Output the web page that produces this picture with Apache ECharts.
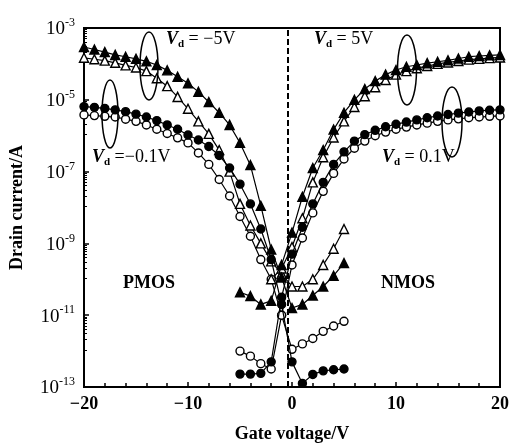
<!DOCTYPE html>
<html>
<head>
<meta charset="utf-8">
<script src="https://cdn.jsdelivr.net/npm/echarts@6/dist/echarts.min.js"></script>
<style>
  html, body { margin: 0; padding: 0; background: #fff; }
  #chart { width: 522px; height: 448px; }
</style>
</head>
<body>
<div id="chart"></div>
<script>
// gate voltages (V)
const pmosVg = [-20, -19, -18, -17, -16, -15, -14, -13, -12, -11, -10, -9, -8, -7, -6, -5, -4, -3, -2, -1, 0, 1, 2, 3, 4, 5]
const nmosVg = [-5, -4, -3, -2, -1, 0, 1, 2, 3, 4, 5, 6, 7, 8, 9, 10, 11, 12, 13, 14, 15, 16, 17, 18, 19, 20]

// drain current as log10(I/A)
const pmosHighFilled = [-3.53, -3.6, -3.67, -3.75, -3.8, -3.86, -3.93, -4.03, -4.18, -4.36, -4.54, -4.78, -5.06, -5.36, -5.7, -6.2, -6.82, -7.95, -9.17, -9.95, -10.8, -10.7, -10.45, -10.2, -9.9, -9.55]
const pmosHighOpen = [-3.83, -3.87, -3.91, -3.97, -4.04, -4.1, -4.2, -4.4, -4.62, -4.92, -5.25, -5.6, -5.95, -6.4, -7.0, -7.9, -8.5, -9.0, -9.5, -9.85, -10.2, -10.2, -10.0, -9.6, -9.15, -8.6]
const pmosLowFilled = [-5.19, -5.21, -5.24, -5.28, -5.33, -5.4, -5.48, -5.58, -5.7, -5.82, -5.98, -6.12, -6.3, -6.55, -6.9, -7.35, -7.9, -8.6, -9.45, -10.7, -12.3, -12.9, -12.65, -12.55, -12.52, -12.5]
const pmosLowOpen = [-5.42, -5.44, -5.46, -5.48, -5.54, -5.6, -5.7, -5.82, -5.94, -6.06, -6.2, -6.48, -6.8, -7.22, -7.68, -8.25, -8.8, -9.45, -10.0, -11.0, -11.95, -11.8, -11.65, -11.45, -11.3, -11.17]

const nmosHighFilled = [-10.36, -10.47, -10.7, -10.6, -9.6, -8.7, -7.7, -6.9, -6.4, -5.83, -5.36, -5.0, -4.7, -4.48, -4.3, -4.17, -4.08, -4.03, -3.98, -3.94, -3.9, -3.85, -3.8, -3.78, -3.76, -3.75]
const nmosHighOpen = [null, null, null, -10.0, -9.7, -9.1, -8.3, -7.3, -6.6, -6.05, -5.6, -5.2, -4.9, -4.65, -4.45, -4.3, -4.2, -4.12, -4.06, -4.0, -3.96, -3.92, -3.88, -3.86, -3.84, -3.82]
const nmosLowFilled = [-12.64, -12.64, -12.62, -12.3, -10.5, -9.3, -8.55, -7.9, -7.3, -6.8, -6.45, -6.15, -5.97, -5.85, -5.75, -5.68, -5.62, -5.56, -5.5, -5.45, -5.41, -5.37, -5.34, -5.31, -5.29, -5.28]
const nmosLowOpen = [-12.0, -12.14, -12.35, -12.5, -11.0, -9.6, -8.85, -8.15, -7.55, -7.05, -6.65, -6.35, -6.15, -6.0, -5.9, -5.82, -5.76, -5.7, -5.65, -5.6, -5.56, -5.53, -5.5, -5.48, -5.46, -5.45]

const xTicks = [-20, -10, 0, 10, 20]
const splitVoltage = -0.4

const font = 'Liberation Serif'

function pairs(xs, logs) {
  return xs.map((x, i) => [x, logs[i] == null ? null : Math.pow(10, logs[i])])
}

function curve(name, xs, logs, symbol, filled, size) {
  return {
    name: name,
    type: 'line',
    data: pairs(xs, logs),
    symbol: symbol,
    symbolSize: size,
    showAllSymbol: true,
    lineStyle: { color: '#000', width: 1.2 },
    itemStyle: {
      color: filled ? '#000' : '#fff',
      borderColor: '#000',
      borderWidth: 1.4
    },
    z: filled ? 3 : 2
  }
}

const series = [
  curve('pmos -5V b', pmosVg, pmosHighOpen, 'triangle', false, 9),
  curve('pmos -0.1V b', pmosVg, pmosLowOpen, 'circle', false, 8),
  curve('nmos 5V b', nmosVg, nmosHighOpen, 'triangle', false, 9),
  curve('nmos 0.1V b', nmosVg, nmosLowOpen, 'circle', false, 8),
  curve('pmos -5V a', pmosVg, pmosHighFilled, 'triangle', true, 9),
  curve('pmos -0.1V a', pmosVg, pmosLowFilled, 'circle', true, 8),
  curve('nmos 5V a', nmosVg, nmosHighFilled, 'triangle', true, 9),
  curve('nmos 0.1V a', nmosVg, nmosLowFilled, 'circle', true, 8)
]

series[0].markLine = {
  silent: true,
  symbol: 'none',
  label: { show: false },
  lineStyle: { color: '#000', type: [6, 3], width: 2 },
  data: [{ xAxis: splitVoltage }]
}

const vdRich = {
  v: { fontFamily: font, fontStyle: 'italic', fontSize: 18, fontWeight: 'bold', color: '#000' },
  d: { fontFamily: font, fontSize: 11, fontWeight: 'bold', color: '#000', padding: [10, 0, 0, 0] },
  t: { fontFamily: font, fontSize: 18, color: '#000' }
}

function vdLabel(x, y, value) {
  return {
    type: 'text', left: x, top: y,
    style: { text: '{v|V}{d|d}{t| ' + value + '}', rich: vdRich }
  }
}

function ellipse(cx, cy, rx, ry) {
  return {
    type: 'ellipse',
    shape: { cx: cx, cy: cy, rx: rx, ry: ry },
    style: { fill: 'none', stroke: '#000', lineWidth: 1.5 },
    z: 10
  }
}

const chart = echarts.init(document.getElementById('chart'))
chart.setOption({
  backgroundColor: '#fff',
  animation: false,
  grid: {
    left: 82, right: 22, top: 28, bottom: 60,
    show: true, borderColor: '#000', borderWidth: 2, backgroundColor: 'transparent'
  },
  xAxis: {
    type: 'value',
    min: -20, max: 20, interval: 10,
    name: 'Gate voltage/V',
    nameLocation: 'middle',
    nameGap: 38,
    nameTextStyle: { fontFamily: font, fontSize: 18, fontWeight: 'bold', color: '#000' },
    axisLine: { onZero: false, lineStyle: { color: '#000', width: 2 } },
    axisTick: { inside: true, length: 5, lineStyle: { color: '#000', width: 1.5 } },
    minorTick: { show: true, splitNumber: 5, length: 4, lineStyle: { color: '#000', width: 1.5 } },
    splitLine: { show: false },
    axisLabel: {
      margin: 8,
      fontFamily: font, fontSize: 18, fontWeight: 'bold', color: '#000',
      formatter: function (v) { return xTicks.indexOf(v) >= 0 ? String(v).replace('-', '\u2212') : '' }
    }
  },
  yAxis: {
    type: 'log',
    logBase: 10,
    min: 1e-13, max: 1e-3,
    interval: 2,
    name: 'Drain current/A',
    nameLocation: 'middle',
    nameGap: 58,
    nameTextStyle: { fontFamily: font, fontSize: 18, fontWeight: 'bold', color: '#000' },
    axisLine: { onZero: false, lineStyle: { color: '#000', width: 2 } },
    axisTick: { inside: true, length: 5, lineStyle: { color: '#000', width: 1.5 } },
    minorTick: { show: true, splitNumber: 10, length: 3, lineStyle: { color: '#000', width: 1 } },
    splitLine: { show: false },
    axisLabel: {
      margin: 9,
      formatter: function (v) {
        const e = Math.round(Math.log10(v))
        return '{b|10}{s|' + e + '}'
      },
      rich: {
        b: { fontFamily: font, fontSize: 19, color: '#000', verticalAlign: 'bottom', lineHeight: 22 },
        s: { fontFamily: font, fontSize: 12, color: '#000', verticalAlign: 'top', lineHeight: 12, padding: [0, 0, 8, 0] }
      }
    }
  },
  series: series,
  graphic: [
    vdLabel(166, 30, '= \u22125V'),
    vdLabel(314, 30, '= 5V'),
    vdLabel(92, 148, '=\u22120.1V'),
    vdLabel(382, 148, '= 0.1V'),
    {
      type: 'text', left: 123, top: 274,
      style: { text: 'PMOS', fontFamily: font, fontSize: 18, fontWeight: 'bold', fill: '#000' }
    },
    {
      type: 'text', left: 381, top: 274,
      style: { text: 'NMOS', fontFamily: font, fontSize: 18, fontWeight: 'bold', fill: '#000' }
    },
    ellipse(149, 66, 9, 34),
    ellipse(110, 114, 8, 34),
    ellipse(407, 70, 9.5, 35),
    ellipse(452, 122, 10, 35)
  ]
})
</script>
</body>
</html>
